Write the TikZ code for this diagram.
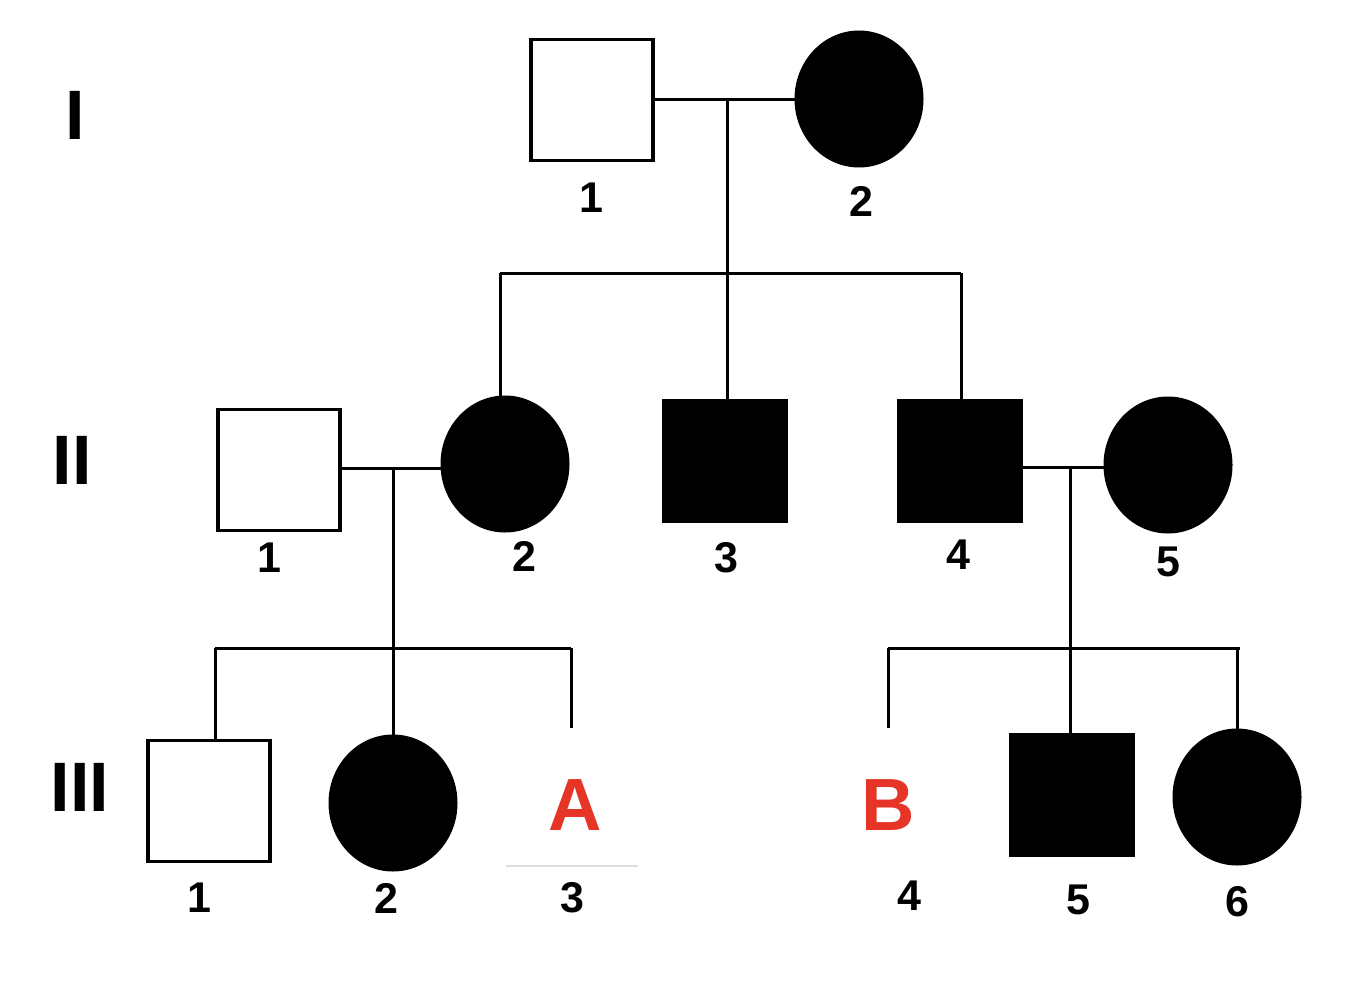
\documentclass[tikz,border=0pt]{standalone}
\usepackage{fontspec}
\setmainfont{Liberation Sans}
\usetikzlibrary{shapes.geometric}
\begin{document}
\begin{tikzpicture}[x=1pt,y=-1pt,
  ln/.style={line width=3pt},
  male/.style={draw,line width=3.2pt,minimum width=122pt,minimum height=121pt,inner sep=0pt},
  female/.style={draw,line width=3pt,ellipse,minimum width=126pt,minimum height=134pt,inner sep=0pt},
  aff/.style={fill=black},
  num/.style={font=\fontsize{43}{43}\selectfont\bfseries,inner sep=0pt},
  gen/.style={font=\fontsize{70}{70}\selectfont\bfseries,inner sep=0pt},
  redlbl/.style={font=\fontsize{74}{74}\selectfont\bfseries,text=redA,inner sep=0pt}]
\definecolor{redA}{HTML}{E63527}
\useasboundingbox (0,0) rectangle (1364,982);
\fill[white] (0,0) rectangle (1364,982);
% generation labels
\node[gen] (gI) at (75,115) {I};
\node[gen] (gII) at (72,460) {II};
\node[gen] (gIII) at (80,787) {III};
% generation I
\node[male] (I1) at (592,100) {};
\node[female,aff] (I2) at (859,99) {};
\node[num] (lI1) at (591,198) {1};
\node[num] (lI2) at (861,201) {2};
% generation II
\node[male] (II1) at (279,470) {};
\node[female,aff] (II2) at (505,464) {};
\node[male,aff] (II3) at (725,461) {};
\node[male,aff] (II4) at (960,461) {};
\node[female,aff] (II5) at (1168,465) {};
\node[num] (lII1) at (269,558) {1};
\node[num] (lII2) at (524,556) {2};
\node[num] (lII3) at (726,558) {3};
\node[num] (lII4) at (958,555) {4};
\node[num] (lII5) at (1168,562) {5};
% generation III
\node[male] (III1) at (209,801) {};
\node[female,aff] (III2) at (393,803) {};
\node[redlbl] (A) at (575,805) {A};
\node[redlbl] (B) at (888,805) {B};
\node[male,aff] (III5) at (1072,795) {};
\node[female,aff] (III6) at (1237,797) {};
\node[num] (lIII1) at (199,898) {1};
\node[num] (lIII2) at (386,898) {2};
\node[num] (lIII3) at (572,898) {3};
\node[num] (lIII4) at (909,896) {4};
\node[num] (lIII5) at (1078,900) {5};
\node[num] (lIII6) at (1237,902) {6};
\draw[line width=1.5pt,black!13] (506,866) -- (638,866);
% coordinates
\coordinate (m1) at (727,99);
\coordinate (s1) at (727,273);
\coordinate (s1l) at (500,273);
\coordinate (s1r) at (961,273);
\coordinate (m2) at (393,468);
\coordinate (s2) at (393,648);
\coordinate (s2l) at (215,648);
\coordinate (s2r) at (571,648);
\coordinate (e3) at (571,728);
\coordinate (m3) at (1070,467);
\coordinate (s3) at (1070,648);
\coordinate (s3l) at (888,648);
\coordinate (s3r) at (1240,648);
\coordinate (e4) at (888,728);
% lines
\draw[ln] (I1.east |- m1) -- (I2.west |- m1);
\draw[ln] (m1) -- (s1);
\draw[ln] (s1l) -- (s1r);
\draw[ln] (s1l) -- (s1l |- II2.north);
\draw[ln] (s1) -- (s1 |- II3.north);
\draw[ln] (s1r) -- (s1r |- II4.north);
\draw[ln] (II1.east |- m2) -- (II2.west |- m2);
\draw[ln] (m2) -- (s2);
\draw[ln] (s2l) -- (s2r);
\draw[ln] (s2l) -- (s2l |- III1.north);
\draw[ln] (s2) -- (s2 |- III2.north);
\draw[ln] (s2r) -- (e3);
\draw[ln] (II4.east |- m3) -- (II5.west |- m3);
\draw[ln] (m3) -- (s3);
\draw[ln] (s3l) -- (s3r);
\draw[ln] (s3l) -- (e4);
\draw[ln] (s3) -- (s3 |- III5.north);
\draw[ln] (III6.north) -- (III6.north |- s3r);
\end{tikzpicture}
\end{document}
